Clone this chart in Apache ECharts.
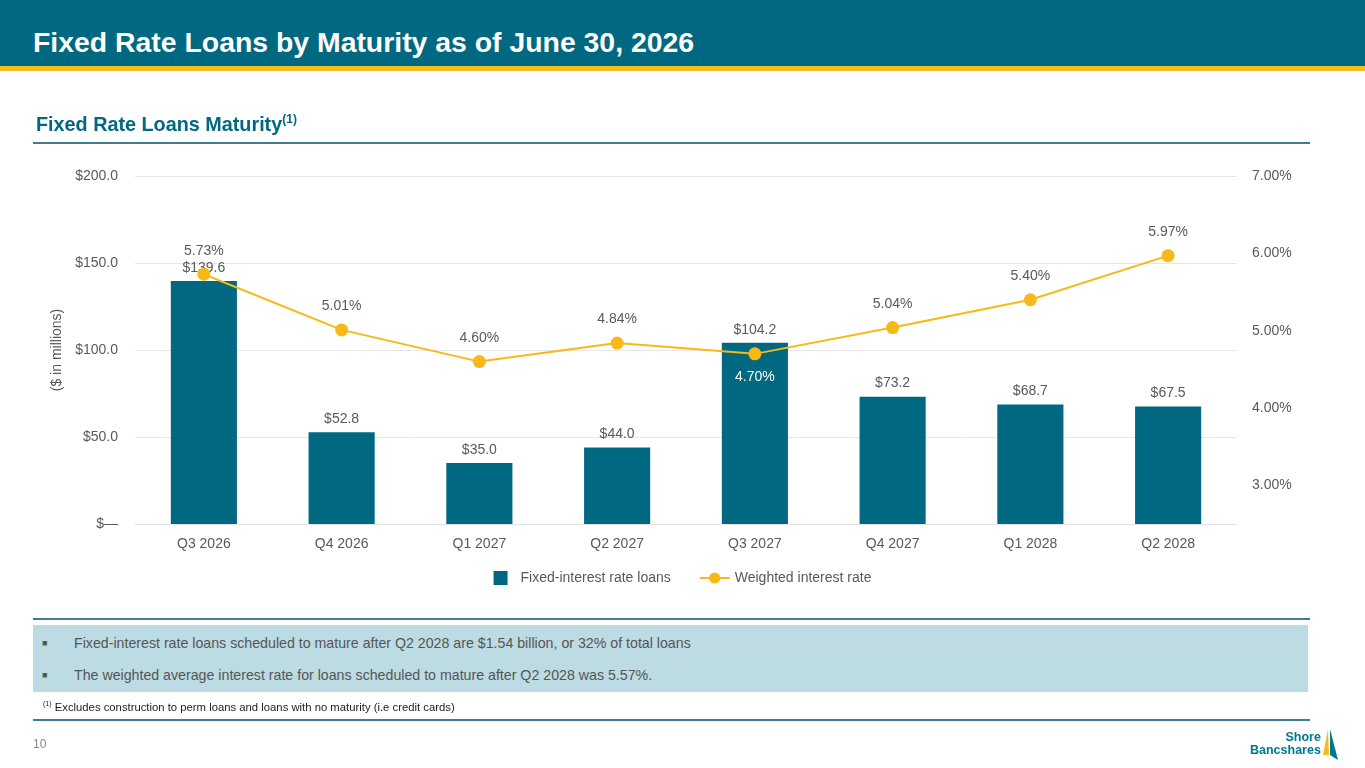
<!DOCTYPE html>
<html>
<head>
<meta charset="utf-8">
<script src="https://cdn.jsdelivr.net/npm/echarts@6/dist/echarts.min.js"></script>
<style>
  body { margin: 0; width: 1365px; height: 768px; overflow: hidden; background: #fff;
         font-family: "Liberation Sans", Arial, sans-serif; position: relative; }
  #header { position: absolute; left: 0; top: 0; width: 1365px; height: 66px; background: #006880; }
  #stripe { position: absolute; left: 0; top: 66px; width: 1365px; height: 5px; background: #f2bd1d; }
  #title { position: absolute; left: 33px; top: 25px; color: #fff; font-size: 28.4px; font-weight: bold; line-height: 34px; }
  #subtitle { position: absolute; left: 36px; top: 112px; color: #006880; font-size: 19.8px; font-weight: bold; }
  #subtitle sup { font-size: 12px; }
  .rule { position: absolute; left: 33px; width: 1277px; height: 2px; background: #3d7f8f; }
  #chart { position: absolute; left: 0; top: 0; width: 1365px; height: 768px; }
  #notes { position: absolute; left: 33px; top: 625px; width: 1275px; height: 67px; background: #bddbe3; }
  .bullet { position: absolute; left: 9px; font-size: 14.2px; color: #555; }
  .bullet span { display: inline-block; width: 32px; font-size: 9px; vertical-align: 2px; }
  #foot { position: absolute; left: 43px; top: 700px; font-size: 11.3px; color: #222; }
  #foot sup { font-size: 7px; }
  #page { position: absolute; left: 33px; top: 737px; font-size: 12px; color: #888; }
  #logo { position: absolute; left: 1250px; top: 731px; font-size: 12.5px; font-weight: bold; color: #00788f; line-height: 13px; text-align: right; }
</style>
</head>
<body>
<div id="chart"></div>
<div id="header"></div>
<div id="stripe"></div>
<div id="title">Fixed Rate Loans by Maturity as of June 30, 2026</div>
<div id="subtitle">Fixed Rate Loans Maturity<sup>(1)</sup></div>
<div class="rule" style="top:142px"></div>
<div class="rule" style="top:618px"></div>
<div id="notes">
  <div class="bullet" style="top:10px"><span>&#9632;</span>Fixed-interest rate loans scheduled to mature after Q2 2028 are $1.54 billion, or 32% of total loans</div>
  <div class="bullet" style="top:42px"><span>&#9632;</span>The weighted average interest rate for loans scheduled to mature after Q2 2028 was 5.57%.</div>
</div>
<div id="foot"><sup>(1)</sup> Excludes construction to perm loans and loans with no maturity (i.e credit cards)</div>
<div class="rule" style="top:719px"></div>
<div id="page">10</div>
<div id="logo">Shore<br>Bancshares</div>
<svg style="position:absolute;left:1319px;top:727px" width="20" height="34">
  <polygon points="9,2 4,28 10,28" fill="#f2bd1d"/>
  <polygon points="11,2 19,33 11,28" fill="#00788f"/>
</svg>
<script>
var quarters = ['Q3 2026', 'Q4 2026', 'Q1 2027', 'Q2 2027', 'Q3 2027', 'Q4 2027', 'Q1 2028', 'Q2 2028'];
var loans = [139.6, 52.8, 35.0, 44.0, 104.2, 73.2, 68.7, 67.5];
var rates = [5.73, 5.01, 4.60, 4.84, 4.70, 5.04, 5.40, 5.97];
var leftTicks = [0, 50, 100, 150, 200];
var rightTicks = [3, 4, 5, 6, 7];

var myChart = echarts.init(document.getElementById('chart'));

var rateData = [];
rates.forEach(function (v, i) {
    if (i === 4) { //Q3 2027 的标签在点下方，白色
        rateData.push({ value: v, label: { position: 'bottom', distance: 10, color: '#fff' } });
    } else {
        rateData.push(v);
    }
});

myChart.setOption({
    textStyle: { fontFamily: 'Liberation Sans, Arial, sans-serif' },
    grid: { left: 135, right: 128, top: 176, bottom: 244 },
    legend: {
        bottom: 178,
        left: 'center',
        itemGap: 28,
        itemWidth: 30,
        itemHeight: 14,
        textStyle: { color: '#595959', fontSize: 14 },
        data: [
            { name: 'Fixed-interest rate loans', icon: 'path://M8,0H22V14H8Z' },
            { name: 'Weighted interest rate' }
        ]
    },
    xAxis: {
        type: 'category',
        data: quarters,
        axisTick: { show: false },
        axisLine: { lineStyle: { color: '#e3e3e3' } },
        axisLabel: { color: '#595959', fontSize: 14, margin: 13 }
    },
    yAxis: [{
        type: 'value',
        min: leftTicks[0],
        max: leftTicks[leftTicks.length - 1],
        interval: 50,
        name: '($ in millions)',
        nameLocation: 'middle',
        nameGap: 59,
        nameTextStyle: { color: '#595959', fontSize: 14 },
        splitLine: { lineStyle: { color: '#e6e6e6' } },
        axisLabel: {
            color: '#595959', fontSize: 14, margin: 17,
            formatter: function (v) { return v === 0 ? '$\u2014' : '$' + v.toFixed(1); }
        }
    }, {
        type: 'value',
        min: 2.5,
        max: 7,
        interval: 0.5,
        splitLine: { show: false },
        axisLabel: {
            color: '#595959', fontSize: 14, margin: 15,
            formatter: function (v) { return rightTicks.indexOf(v) >= 0 ? v.toFixed(2) + '%' : ''; }
        }
    }],
    series: [{
        name: 'Fixed-interest rate loans',
        type: 'bar',
        data: loans,
        barWidth: '48%',
        itemStyle: { color: '#006880' },
        label: {
            show: true, position: 'top', distance: 6,
            color: '#595959', fontSize: 14,
            formatter: function (p) { return '$' + p.value.toFixed(1); }
        }
    }, {
        name: 'Weighted interest rate',
        type: 'line',
        yAxisIndex: 1,
        data: rateData,
        symbol: 'circle',
        symbolSize: 13,
        itemStyle: { color: '#f7b918' },
        lineStyle: { color: '#f7b918', width: 2 },
        label: {
            show: true, position: 'top', distance: 10,
            color: '#595959', fontSize: 14,
            formatter: function (p) { return p.value.toFixed(2) + '%'; }
        }
    }]
});
</script>
</body>
</html>
